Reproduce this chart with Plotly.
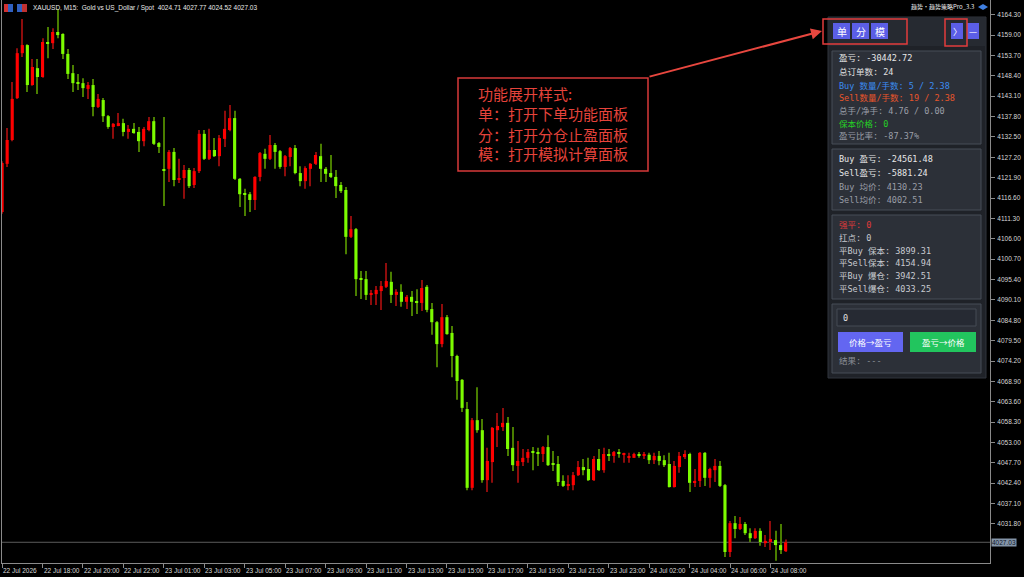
import plotly.graph_objects as go

# ---------------- data ----------------
opens = [4113.0, 4125.5, 4131.7, 4142.6, 4154.3, 4156.4, 4146.0, 4150.4, 4148.1, 4157.2,
         4156.9, 4159.8, 4159.3, 4154.1, 4149.1, 4146.8, 4146.5, 4145.0, 4146.0, 4140.3,
         4142.1, 4137.9, 4135.1, 4135.6, 4136.1, 4133.8, 4134.6, 4133.8, 4131.4, 4134.3,
         4136.6, 4130.9, 4123.9, 4124.2, 4128.6, 4121.3, 4121.8, 4123.9, 4120.0, 4123.6,
         4133.3, 4126.8, 4129.1, 4127.5, 4132.0, 4134.3, 4137.4, 4121.6, 4117.7, 4117.6,
         4116.1, 4122.1, 4128.1, 4126.8, 4130.4, 4128.8, 4124.7, 4127.3, 4129.6, 4123.1,
         4121.0, 4124.2, 4125.5, 4127.5, 4124.2, 4123.1, 4122.1, 4120.0, 4118.7, 4106.5,
         4108.5, 4095.6, 4095.5, 4091.4, 4091.6, 4092.4, 4093.5, 4094.8, 4091.4, 4092.2,
         4089.6, 4090.9, 4089.8, 4089.3, 4093.5, 4087.7, 4084.3, 4078.6, 4085.6, 4081.5,
         4075.5, 4069.3, 4061.7, 4041.2, 4058.8, 4056.2, 4043.2, 4047.9, 4056.2, 4057.0,
         4058.1, 4051.6, 4046.9, 4047.9, 4049.0, 4050.6, 4050.5, 4050.0, 4051.8, 4047.5,
         4047.4, 4043.0, 4041.7, 4041.9, 4044.5, 4046.6, 4046.1, 4043.2, 4048.7, 4045.8,
         4050.0, 4049.5, 4050.5, 4049.9, 4049.2, 4049.0, 4050.0, 4049.5, 4049.8, 4048.4,
         4049.5, 4048.4, 4047.4, 4041.4, 4046.6, 4049.2, 4050.0, 4042.5, 4043.0, 4050.3,
         4043.8, 4045.8, 4046.9, 4041.9, 4024.5, 4032.0, 4030.5, 4031.8, 4029.4, 4028.1,
         4030.0, 4026.8, 4027.1, 4027.6, 4026.3, 4024.71]
highs = [4126.2, 4134.8, 4146.8, 4155.6, 4163.2, 4156.6, 4152.8, 4152.8, 4158.2, 4161.1,
         4160.8, 4165.8, 4159.5, 4155.4, 4151.2, 4148.9, 4147.8, 4146.8, 4147.6, 4143.7,
         4142.6, 4138.2, 4136.1, 4138.7, 4137.2, 4135.6, 4136.1, 4135.1, 4135.1, 4137.7,
         4137.7, 4131.2, 4137.7, 4129.1, 4129.6, 4126.8, 4125.2, 4124.4, 4124.4, 4134.3,
         4134.3, 4134.6, 4132.2, 4133.0, 4139.3, 4140.8, 4139.3, 4121.8, 4119.0, 4118.2,
         4122.3, 4128.6, 4129.4, 4133.0, 4130.9, 4129.1, 4127.8, 4129.9, 4130.4, 4124.9,
         4124.9, 4125.7, 4128.6, 4130.7, 4124.7, 4127.8, 4123.9, 4120.8, 4119.5, 4111.9,
         4108.8, 4097.6, 4097.6, 4092.7, 4093.7, 4095.0, 4099.7, 4097.4, 4092.9, 4094.2,
         4091.4, 4092.4, 4092.9, 4095.3, 4094.0, 4089.3, 4084.6, 4089.0, 4086.2, 4083.3,
         4075.8, 4069.5, 4063.5, 4059.4, 4067.4, 4059.1, 4051.6, 4057.0, 4060.7, 4062.0,
         4059.6, 4057.0, 4053.4, 4051.3, 4051.3, 4051.8, 4051.6, 4052.1, 4054.9, 4050.8,
         4049.5, 4044.5, 4044.5, 4045.3, 4048.2, 4048.7, 4049.0, 4049.5, 4051.3, 4051.6,
         4051.3, 4050.8, 4051.3, 4050.3, 4050.3, 4050.3, 4050.5, 4050.5, 4050.3, 4050.3,
         4050.8, 4049.7, 4050.3, 4048.2, 4050.5, 4051.0, 4050.3, 4046.1, 4050.5, 4050.5,
         4046.4, 4048.7, 4048.2, 4042.2, 4032.6, 4033.9, 4033.6, 4032.3, 4030.7, 4030.7,
         4030.7, 4028.9, 4032.6, 4030.0, 4031.8, 4027.77]
lows = [4112.5, 4124.7, 4131.4, 4142.4, 4153.3, 4144.2, 4145.8, 4143.7, 4147.9, 4153.0,
        4155.4, 4158.2, 4152.8, 4147.6, 4144.2, 4144.7, 4142.9, 4142.4, 4137.9, 4140.0,
        4136.4, 4134.6, 4132.0, 4135.3, 4132.7, 4132.0, 4133.3, 4128.6, 4130.1, 4134.0,
        4130.4, 4128.3, 4114.5, 4120.8, 4119.7, 4120.5, 4116.4, 4119.2, 4119.2, 4123.1,
        4126.5, 4126.5, 4127.3, 4124.9, 4129.9, 4134.0, 4121.3, 4114.3, 4111.9, 4113.0,
        4113.5, 4121.0, 4124.2, 4126.5, 4124.2, 4124.2, 4122.3, 4124.9, 4122.8, 4119.7,
        4119.0, 4119.7, 4125.2, 4120.8, 4120.8, 4121.8, 4116.6, 4117.9, 4102.0, 4106.2,
        4091.1, 4090.3, 4090.1, 4088.8, 4088.8, 4087.5, 4093.2, 4089.3, 4088.5, 4088.3,
        4087.7, 4085.9, 4086.4, 4087.2, 4086.9, 4081.0, 4072.6, 4077.8, 4081.0, 4070.0,
        4064.1, 4060.9, 4040.6, 4040.6, 4055.5, 4042.5, 4040.1, 4042.5, 4051.8, 4056.0,
        4049.5, 4045.6, 4042.5, 4046.9, 4047.7, 4045.8, 4046.9, 4047.9, 4046.9, 4045.6,
        4041.7, 4041.4, 4040.6, 4040.6, 4044.3, 4044.5, 4043.0, 4043.0, 4045.6, 4045.1,
        4048.2, 4047.7, 4049.0, 4047.7, 4047.7, 4049.0, 4049.0, 4048.7, 4047.4, 4047.4,
        4047.1, 4046.6, 4041.3, 4041.3, 4045.1, 4048.7, 4040.1, 4041.4, 4041.4, 4041.7,
        4041.2, 4042.7, 4041.4, 4023.2, 4023.2, 4028.1, 4030.2, 4028.9, 4027.1, 4027.9,
        4026.1, 4025.8, 4025.0, 4022.2, 4024.0, 4024.52]
closes = [4125.7, 4131.7, 4142.4, 4154.3, 4156.4, 4146.0, 4150.7, 4148.1, 4157.2, 4156.9,
          4159.8, 4159.0, 4154.1, 4148.9, 4146.5, 4146.5, 4145.2, 4146.0, 4140.3, 4142.4,
          4137.9, 4135.1, 4135.9, 4136.1, 4133.8, 4134.6, 4133.5, 4131.4, 4134.6, 4136.6,
          4130.7, 4129.9, 4123.7, 4128.6, 4121.3, 4121.8, 4123.9, 4119.7, 4123.6, 4133.3,
          4126.8, 4129.1, 4127.5, 4132.2, 4134.6, 4137.4, 4121.6, 4117.6, 4117.5, 4116.1,
          4122.1, 4128.3, 4126.8, 4130.4, 4128.6, 4124.7, 4127.5, 4129.6, 4123.1, 4121.0,
          4124.4, 4125.5, 4127.8, 4124.2, 4122.9, 4122.1, 4119.7, 4118.4, 4106.5, 4108.5,
          4095.5, 4095.4, 4091.4, 4091.9, 4092.7, 4093.7, 4095.0, 4091.4, 4092.2, 4089.6,
          4090.9, 4089.6, 4089.3, 4093.2, 4087.5, 4084.3, 4078.6, 4085.6, 4081.2, 4075.5,
          4069.0, 4062.0, 4041.2, 4058.8, 4056.2, 4043.2, 4048.2, 4056.8, 4057.3, 4058.1,
          4051.3, 4047.1, 4048.2, 4049.0, 4050.5, 4050.4, 4050.0, 4051.8, 4047.1, 4047.3,
          4042.7, 4041.7, 4042.2, 4044.5, 4046.6, 4045.8, 4043.2, 4048.7, 4045.8, 4050.0,
          4049.5, 4050.5, 4050.0, 4050.1, 4049.4, 4050.0, 4049.5, 4049.8, 4048.4, 4049.5,
          4048.2, 4047.1, 4041.4, 4046.9, 4049.5, 4050.0, 4042.5, 4043.0, 4050.3, 4043.8,
          4046.1, 4046.9, 4041.7, 4024.5, 4032.0, 4030.5, 4031.8, 4029.4, 4028.1, 4030.0,
          4027.1, 4027.4, 4027.9, 4026.3, 4025.0, 4027.03]

time_tick_bars = [0, 8, 16, 24, 32, 40, 48, 56, 64, 72, 80, 88, 96, 104, 112, 120, 128, 136, 144, 152]
time_tick_labels = ["22 Jul 2026", "22 Jul 18:00", "22 Jul 20:00", "22 Jul 22:00", "23 Jul 01:00",
                    "23 Jul 03:00", "23 Jul 05:00", "23 Jul 07:00", "23 Jul 09:00", "23 Jul 11:00",
                    "23 Jul 13:00", "23 Jul 15:00", "23 Jul 17:00", "23 Jul 19:00", "23 Jul 21:00",
                    "23 Jul 23:00", "24 Jul 02:00", "24 Jul 04:00", "24 Jul 06:00", "24 Jul 08:00"]
price_ticks = [4164.30, 4159.00, 4153.70, 4148.40, 4143.10, 4137.80, 4132.50, 4127.20, 4121.90,
               4116.60, 4111.30, 4106.00, 4100.70, 4095.40, 4090.10, 4084.80, 4079.50, 4074.20,
               4068.90, 4063.60, 4058.30, 4053.00, 4047.70, 4042.40, 4037.10, 4031.80]

symbol_title = "XAUUSD, M15:  Gold vs US_Dollar / Spot"
ea_name = "趋势·趋势策略Pro_3.3"

card1 = [("盈亏: -30442.72", "#e8e8e8"), ("总订单数: 24", "#e0e0e0"),
         ("Buy 数量/手数: 5 / 2.38", "#3b8cf0"), ("Sell数量/手数: 19 / 2.38", "#e8552b"),
         ("总手/净手: 4.76 / 0.00", "#9a9ea7"), ("保本价格: 0", "#25d025"),
         ("盈亏比率: -87.37%", "#9a9ea7")]
card2 = [("Buy 盈亏: -24561.48", "#e8e8e8"), ("Sell盈亏: -5881.24", "#e8e8e8"),
         ("Buy 均价: 4130.23", "#9a9ea7"), ("Sell均价: 4002.51", "#9a9ea7")]
card3 = [("强平: 0", "#e03a3a"), ("扛点: 0", "#c8cad0"), ("平Buy 保本: 3899.31", "#c8cad0"),
         ("平Sell保本: 4154.94", "#c8cad0"), ("平Buy 爆仓: 3942.51", "#c8cad0"),
         ("平Sell爆仓: 4033.25", "#c8cad0")]
note_lines = ["功能展开样式:", "单：打开下单功能面板", "分：打开分仓止盈面板", "模：打开模拟计算面板"]

# ---------------- figure ----------------
n = len(opens)
xs = list(range(n))
up = [c >= o for o, c in zip(opens, closes)]
body_col = ["#ff0000" if u else "#7cfc00" for u in up]
wick_col = ["#8e0c0c" if u else "#4a7e00" for u in up]

fig = go.Figure()
fig.add_trace(go.Bar(x=xs, base=lows, y=[h - l for h, l in zip(highs, lows)], width=0.2,
                     marker=dict(color=wick_col, line=dict(width=0)), hoverinfo="skip",
                     showlegend=False))
fig.add_trace(go.Bar(x=xs, base=[min(o, c) for o, c in zip(opens, closes)],
                     y=[abs(c - o) for o, c in zip(opens, closes)], width=0.62,
                     marker=dict(color=body_col, line=dict(width=0)), hoverinfo="skip",
                     showlegend=False))

L, R, T, B = 2, 990, 0, 563
W, H = 1024, 577
X0 = -0.02


def PX(x):
    return (x - L) / (R - L)


def PY(y):
    return (B - y) / (B - T)


shapes = []
annots = []
small_font = "Liberation Sans Narrow, Liberation Sans, Arial"
mono = "DejaVu Sans Mono, Noto Sans CJK SC"


def rect(x0, y0, x1, y1, fill, line=None, lw=1):
    shapes.append(dict(type="rect", xref="paper", yref="paper", x0=PX(x0), x1=PX(x1),
                       y0=PY(y1), y1=PY(y0), fillcolor=fill,
                       line=dict(color=line or fill, width=lw if line else 0), layer="above"))


def text(x, y, s, color, size, family=mono, xanchor="left"):
    annots.append(dict(x=PX(x), y=PY(y), xref="paper", yref="paper", text=s, showarrow=False,
                       xanchor=xanchor, yanchor="middle", font=dict(color=color, size=size, family=family)))


# current price line
shapes.append(dict(type="line", xref="paper", yref="y", x0=0, x1=1, y0=closes[-1], y1=closes[-1],
                   line=dict(color="#5c5c5c", width=1), layer="below"))
annots.append(dict(x=1, y=closes[-1], xref="paper", yref="y", text=f"{closes[-1]:.2f}", showarrow=False,
                   xanchor="left", yanchor="middle", xshift=1, bgcolor="#8394a8", borderpad=0,
                   font=dict(color="#10182a", size=6.5, family=small_font)))

# time labels (left aligned at tick, MT style)
for b, lab in zip(time_tick_bars, time_tick_labels):
    annots.append(dict(x=b, y=PY(570), xref="x", yref="paper", text=lab, showarrow=False,
                       xanchor="left", yanchor="middle", xshift=-1,
                       font=dict(color="#d8d8d8", size=6.5, family=small_font)))

# header
rect(4, 4, 8, 12, "#d03030")
rect(8, 4, 13, 12, "#3060c0")
rect(17, 4, 22, 12, "#3060c0")
rect(22, 4, 27, 12, "#c03030")
hdr = f"{symbol_title}  {opens[-1]:.2f} {highs[-1]:.2f} {lows[-1]:.2f} {closes[-1]:.2f}"
text(31, 8, hdr, "#e8e8e8", 6.5, small_font)
text(976, 7, ea_name, "#e8e8e8", 6, "Noto Sans CJK SC, Liberation Sans", xanchor="right")
shapes.append(dict(type="path", xref="paper", yref="paper",
                   path=f"M {PX(978)},{PY(7)} L {PX(983)},{PY(4)} L {PX(988)},{PY(7)} L {PX(983)},{PY(10)} Z",
                   fillcolor="#3f7fe0", line=dict(width=0), layer="above"))

# panel
rect(828, 17, 986, 378, "#1f2228", "#30343c")
rect(829, 18, 985, 46, "#262a31")
rect(832, 51, 981, 144, "#2c3038", "#474c56")
rect(832, 149, 981, 210, "#2c3038", "#474c56")
rect(832, 215, 981, 299, "#2c3038", "#474c56")
rect(832, 304, 981, 373, "#2c3038", "#474c56")

# header buttons
for x0, ch in [(833, "单"), (852, "分"), (871, "模")]:
    rect(x0, 23, x0 + 17, 39, "#5b5ee6")
    text(x0 + 8.5, 31, ch, "#ffffff", 10, "Noto Sans CJK SC", xanchor="center")
rect(951, 23, 963, 39, "#5b5ee6")
text(957, 31, "〉", "#ffffff", 9, "Noto Sans CJK SC", xanchor="center")
rect(967, 23, 979, 39, "#5b5ee6")
text(973, 31, "—", "#ffffff", 9, "Noto Sans CJK SC", xanchor="center")

# red highlights
rect(823, 19, 907, 44, "rgba(0,0,0,0)", "#e23c3c", 1.5)
rect(945, 19, 967, 46, "rgba(0,0,0,0)", "#e23c3c", 1.5)

# card texts
for (s, c), y in zip(card1, [58, 72, 86, 98, 111, 124, 136]):
    text(837, y, s, c, 8.5)
for (s, c), y in zip(card2, [159, 173, 187, 200]):
    text(837, y, s, c, 8.5)
for (s, c), y in zip(card3, [225, 238, 251, 263, 276, 289]):
    text(837, y, s, c, 8.5)

# simulator card
rect(837, 309, 976, 326, "#262a33", "#454a55")
text(841, 317.5, "0", "#e0e0e0", 8.5)
rect(838, 332, 903, 352, "#6366f1")
text(870.5, 342, "价格→盈亏", "#ffffff", 8.5, "Noto Sans CJK SC", xanchor="center")
rect(910, 332, 976, 352, "#22c55e")
text(943, 342, "盈亏→价格", "#ffffff", 8.5, "Noto Sans CJK SC", xanchor="center")
text(837, 361, "结果: ---", "#8a8e96", 8.5)

# note box
rect(458, 78, 648, 171, "rgba(0,0,0,0)", "#d83a3a", 1.5)
for s, y in zip(note_lines, [93, 114, 134, 154]):
    text(476, y, s, "#e5433b", 15, "Noto Sans CJK SC")
annots.append(dict(x=PX(822), y=PY(31), xref="paper", yref="paper", ax=648 - 822, ay=77 - 31,
                   axref="pixel", ayref="pixel", text="", showarrow=True, arrowhead=2,
                   arrowsize=1.1, arrowwidth=2, arrowcolor="#e8473f"))

fig.update_layout(
    width=W, height=H, margin=dict(l=L, r=W - R, t=T, b=H - B),
    paper_bgcolor="#000000", plot_bgcolor="#000000", barmode="overlay",
    shapes=shapes, annotations=annots, showlegend=False,
    xaxis=dict(range=[X0, X0 + (R - L) / 5.055], showgrid=False, zeroline=False,
               showline=True, linecolor="#8a8a8a", linewidth=1, ticks="outside", ticklen=4,
               tickcolor="#8a8a8a", tickvals=time_tick_bars, showticklabels=False, fixedrange=True),
    yaxis=dict(range=[4021.64, 4168.13], side="right", showgrid=False, zeroline=False,
               showline=True, mirror=True, linecolor="#8a8a8a", linewidth=1, ticks="outside",
               ticklen=4, tickcolor="#8a8a8a", tickvals=price_ticks,
               ticktext=[f"{v:.2f}" for v in price_ticks], ticklabelstandoff=1,
               tickfont=dict(color="#d8d8d8", size=6.5, family=small_font), fixedrange=True),
)

fig.write_html("out.html")
